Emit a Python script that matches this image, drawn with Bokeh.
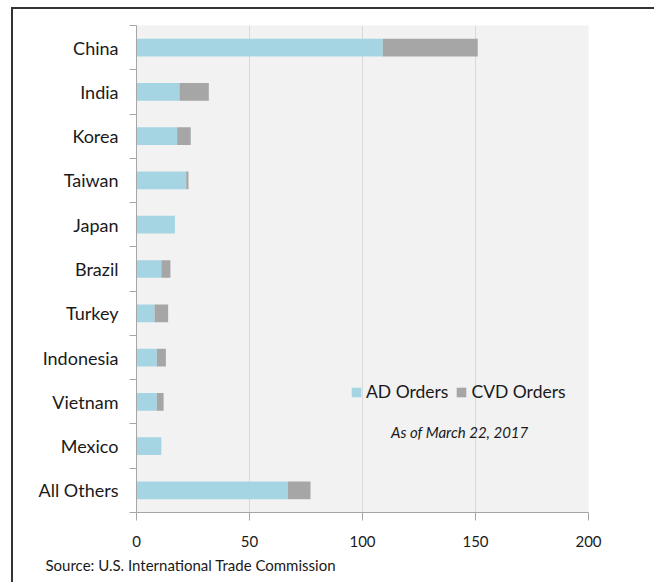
from bokeh.plotting import figure
from bokeh.models import ColumnDataSource, FixedTicker, Label, Legend, LegendItem, Title
from bokeh.embed import file_html
from bokeh.resources import INLINE

countries = ["China", "India", "Korea", "Taiwan", "Japan", "Brazil", "Turkey",
             "Indonesia", "Vietnam", "Mexico", "All Others"]
ad_orders = [109, 19, 18, 22, 17, 11, 8, 9, 9, 11, 67]
cvd_orders = [42, 13, 6, 1, 0, 4, 6, 4, 3, 0, 10]
x_ticks = [0, 50, 100, 150, 200]
source_text = "Source: U.S. International Trade Commission"
note_text = "As of March 22, 2017"

FONT = "Lato"
BLUE = "#a5d5e2"
GRAY = "#a6a6a6"

n = len(countries)
ypos = [n - 0.5 - i for i in range(n)]
src = ColumnDataSource(dict(y=ypos, ad=ad_orders, cvd=cvd_orders, name=countries))

p = figure(width=641, height=573, x_range=(0, 200), y_range=(0, n),
           output_backend="svg", toolbar_location=None,
           min_border_left=123, min_border_right=66, min_border_top=16, min_border_bottom=70)
p.frame_width = 452
p.frame_height = 487
p.background_fill_color = "#f2f2f2"
p.outline_line_color = None
p.styles = {"margin-left": "11px", "margin-top": "7px",
            "border-top": "2px solid #333333", "border-left": "2px solid #333333"}

r = p.hbar_stack(["ad", "cvd"], y="y", height=0.4, source=src,
                 color=[BLUE, GRAY], line_color=None)

# y axis
p.yaxis.ticker = FixedTicker(ticks=ypos, minor_ticks=list(range(n + 1)))
p.yaxis.major_label_overrides = {y: c for y, c in zip(ypos, countries)}
p.yaxis.major_tick_line_color = None
p.yaxis.minor_tick_line_color = "#a6a6a6"
p.yaxis.minor_tick_in = 0
p.yaxis.minor_tick_out = 7
p.yaxis.axis_line_color = "#a6a6a6"
p.yaxis.major_label_text_font = FONT
p.yaxis.major_label_text_font_size = "18px"
p.yaxis.major_label_text_color = "#1a1a1a"
p.yaxis.major_label_standoff = 11
p.ygrid.grid_line_color = None

# x axis
p.xaxis.ticker = FixedTicker(ticks=x_ticks)
p.xaxis.minor_tick_line_color = None
p.xaxis.major_tick_in = 0
p.xaxis.major_tick_out = 8
p.xaxis.major_tick_line_color = "#a6a6a6"
p.xaxis.axis_line_color = "#a6a6a6"
p.xaxis.major_label_text_font = FONT
p.xaxis.major_label_text_font_size = "15px"
p.xaxis.major_label_text_color = "#1a1a1a"
p.xaxis.major_label_standoff = 15
p.xgrid.grid_line_color = "#d9d9d9"

legend = Legend(items=[LegendItem(label="AD Orders", renderers=[r[0]]),
                       LegendItem(label="CVD Orders", renderers=[r[1]])],
                orientation="horizontal", location=(214, 110),
                background_fill_alpha=0, border_line_color=None,
                label_text_font=FONT, label_text_font_size="17.5px",
                label_text_color="#1a1a1a", glyph_width=12, glyph_height=12,
                spacing=7, label_standoff=4, padding=2, margin=0)
p.add_layout(legend, "center")

p.add_layout(Label(x=143, y=1.81, text=note_text, text_align="center",
                   text_baseline="middle", text_font=FONT, text_font_style="italic",
                   text_font_size="15px", text_color="#1a1a1a"))

src_title = Title(text=source_text, align="left", offset=-91, standoff=9,
                  text_font=FONT, text_font_size="15px", text_font_style="normal",
                  text_color="#1a1a1a")
p.add_layout(src_title, "below")

open("out.html", "w").write(file_html(p, INLINE))
